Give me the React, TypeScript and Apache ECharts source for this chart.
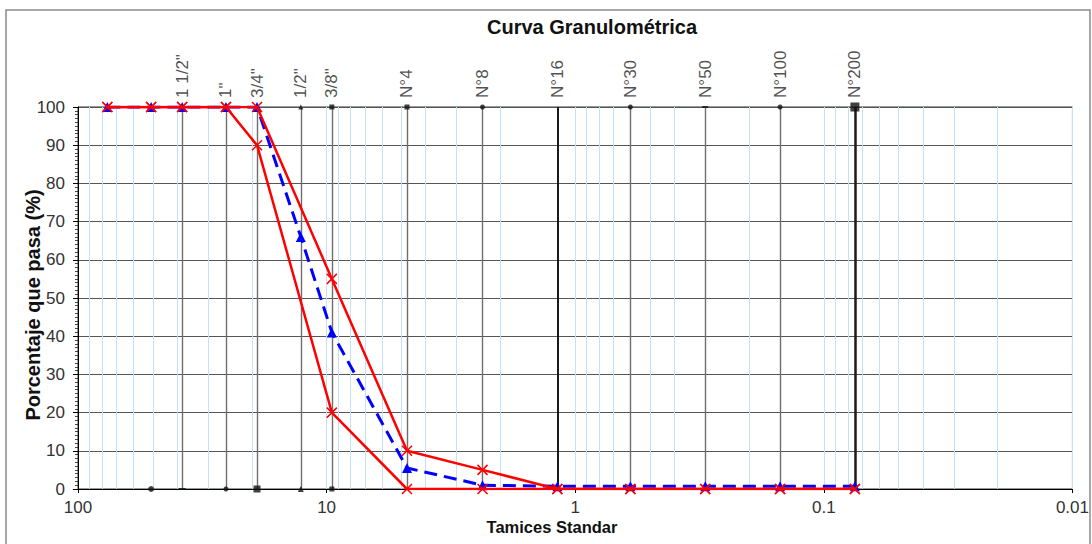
import React, { useEffect, useRef } from "react";
import * as echarts from "echarts";

// ---- data ----
const sieveNames = ['3"', '2"', '1 1/2"', '1"', '3/4"', '1/2"', '3/8"', "N°4", "N°8", "N°16", "N°30", "N°50", "N°100", "N°200"];
const sieveSizes = [76.2, 50.8, 38.1, 25.4, 19.05, 12.7, 9.525, 4.75, 2.36, 1.18, 0.6, 0.3, 0.15, 0.075];
const upperLimit: (number | null)[] = [100, 100, 100, 100, 100, null, 55, 10, 5, 0, 0, 0, 0, 0];
const lowerLimit: (number | null)[] = [100, 100, 100, 100, 90, null, 20, 0, 0, 0, 0, 0, 0, 0];
const sample: (number | null)[] = [100, 100, 100, 100, 100, 66, 41, 5.5, 1, 0.7, 0.7, 0.7, 0.7, 0.7];
const labeledSieves = [false, false, true, true, true, true, true, true, true, true, true, true, true, true];
const xTickLabels = ["100", "10", "1", "0.1", "0.01"];
const decades = [0.01, 0.1, 1, 10];

const FONT = "'Liberation Sans', Arial, sans-serif";

const xMark = "path://M0,0 L10,10 M10,0 L0,10";

export default function App() {
  const ref = useRef<HTMLDivElement>(null);
  useEffect(() => {
    if (!ref.current) return;
    const chart = echarts.init(ref.current, null, { renderer: "svg" });

    const pairs = (ys: (number | null)[]) => sieveSizes.map((s, i) => [s, ys[i]]);

    // minor log grid
    const minorGrid: any[] = [];
    decades.forEach((d) => {
      for (let m = 1; m <= 9; m++) minorGrid.push({ xAxis: Number((m * d).toPrecision(3)) });
    });

    // sieve vertical lines
    const sieveLines = sieveSizes
      .map((s, i) => ({ s, i }))
      .filter(({ i }) => labeledSieves[i])
      .map(({ s, i }) => ({
        xAxis: s,
        lineStyle: {
          color: i === 9 || i === 13 ? "#1a1a1a" : "#6e6e6e",
          width: i === 13 ? 2.5 : i === 9 ? 2 : 1.4,
          type: "solid",
        },
      }));

    const topSymbols: any[] = [null, null, null, null, null, ["triangle", 5], ["rect", 5], ["rect", 5], ["circle", 5], null, ["circle", 5], ["rect", [6, 2]], ["circle", 5], ["rect", 9]];
    const bottomSymbols: any[] = [null, ["circle", 6], ["rect", [7, 2]], ["circle", 5], ["rect", 7], ["triangle", 6], ["rect", 5], null, null, null, null, null, null, null];

    const topMarkers = sieveSizes
      .map((s, i) => ({ s, i }))
      .filter(({ i }) => topSymbols[i])
      .map(({ s, i }) => ({ value: [s, 100], symbol: topSymbols[i][0], symbolSize: topSymbols[i][1] }));
    const bottomMarkers = sieveSizes
      .map((s, i) => ({ s, i }))
      .filter(({ i }) => bottomSymbols[i])
      .map(({ s, i }) => ({ value: [s, 0], symbol: bottomSymbols[i][0], symbolSize: bottomSymbols[i][1] }));
    const labelPoints = sieveSizes
      .map((s, i) => ({ s, i }))
      .filter(({ i }) => labeledSieves[i])
      .map(({ s, i }) => ({ value: [s, 100], name: sieveNames[i] }));

    const option: any = {
      animation: false,
      textStyle: { fontFamily: FONT },
      grid: { left: 78, top: 107, width: 998, height: 382, show: true, borderColor: "#333", borderWidth: 1, backgroundColor: "#fff" },
      xAxis: {
        type: "log",
        logBase: 10,
        min: 0.01,
        max: 100,
        inverse: true,
        axisLine: { show: true, lineStyle: { color: "#000", width: 1 } },
        axisTick: { show: true, length: 4, lineStyle: { color: "#000" } },
        splitLine: { show: false },
        axisLabel: {
          fontSize: 17,
          color: "#333",
          margin: 10,
          fontFamily: FONT,
          formatter: (v: number) => {
            const idx = Math.round(2 - Math.log10(v));
            return xTickLabels[idx] ?? String(v);
          },
        },
      },
      yAxis: {
        type: "value",
        min: 0,
        max: 100,
        interval: 10,
        axisLine: { show: true, lineStyle: { color: "#000", width: 1 } },
        axisTick: { show: true, length: 5, lineStyle: { color: "#000" } },
        minorTick: { show: true, splitNumber: 10, length: 3, lineStyle: { color: "#444" } },
        splitLine: { show: true, lineStyle: { color: "#555", width: 1 } },
        axisLabel: { fontSize: 17, color: "#333", margin: 13, fontFamily: FONT },
      },
      graphic: [
        { type: "rect", shape: { x: 6, y: 10, width: 1084, height: 560 }, style: { fill: "none", stroke: "#8a8a8a", lineWidth: 1.5 }, silent: true, z: -10 },
        { type: "text", x: 592, y: 27, style: { text: "Curva Granulométrica", font: `bold 20px ${FONT}`, fill: "#111", align: "center", verticalAlign: "middle" } },
        { type: "text", x: 552, y: 527, style: { text: "Tamices Standar", font: `bold 16.5px ${FONT}`, fill: "#111", align: "center", verticalAlign: "middle" } },
        { type: "text", x: 33, y: 305, rotation: Math.PI / 2, style: { text: "Porcentaje que pasa (%)", font: `bold 20px ${FONT}`, fill: "#111", align: "center", verticalAlign: "middle" } },
      ],
      series: [
        {
          name: "minorGrid",
          type: "scatter",
          data: [[1, -50]],
          symbolSize: 0,
          silent: true,
          markLine: {
            z: 1,
            silent: true,
            precision: 6,
            symbol: ["none", "none"],
            label: { show: false },
            lineStyle: { color: "#c4e0f7", width: 1, type: "solid" },
            data: minorGrid,
          },
        },
        {
          name: "sieveLines",
          type: "scatter",
          z: 3,
          data: bottomMarkers,
          itemStyle: { color: "#111" },
          silent: true,
          markLine: {
            z: 2,
            silent: true,
            precision: 6,
            symbol: ["none", "none"],
            label: { show: false },
            data: sieveLines,
          },
        },
        {
          name: "topMarkers",
          type: "scatter",
          z: 3,
          data: topMarkers,
          itemStyle: { color: "#111" },
          silent: true,
        },
        {
          name: "sieveLabels",
          type: "scatter",
          z: 3,
          data: labelPoints,
          symbolSize: 0.1,
          itemStyle: { color: "rgba(0,0,0,0)" },
          silent: true,
          label: {
            show: true,
            position: "top",
            distance: 9,
            rotate: 90,
            align: "left",
            verticalAlign: "middle",
            fontSize: 17,
            color: "#222",
            fontFamily: FONT,
            formatter: (p: any) => p.name,
          },
        },
        {
          name: "Muestra",
          type: "line",
          z: 10,
          data: pairs(sample),
          connectNulls: true,
          symbol: "triangle",
          symbolSize: 10,
          itemStyle: { color: "#0000ff" },
          lineStyle: { color: "#0000ff", width: 3, type: [13, 7] },
        },
        {
          name: "Límite superior",
          type: "line",
          z: 11,
          data: pairs(upperLimit),
          connectNulls: true,
          symbol: xMark,
          symbolSize: 10,
          itemStyle: { color: "#ff0000", borderColor: "#ff0000", borderWidth: 1.5 },
          lineStyle: { color: "#ff0000", width: 2.5 },
        },
        {
          name: "Límite inferior",
          type: "line",
          z: 11,
          data: pairs(lowerLimit),
          connectNulls: true,
          symbol: xMark,
          symbolSize: 10,
          itemStyle: { color: "#ff0000", borderColor: "#ff0000", borderWidth: 1.5 },
          lineStyle: { color: "#ff0000", width: 2.5 },
        },
      ],
    };

    chart.setOption(option);
    return () => chart.dispose();
  }, []);

  return <div ref={ref} style={{ position: "fixed", left: 0, top: 0, width: 1092, height: 544, background: "#fff" }} />;
}
